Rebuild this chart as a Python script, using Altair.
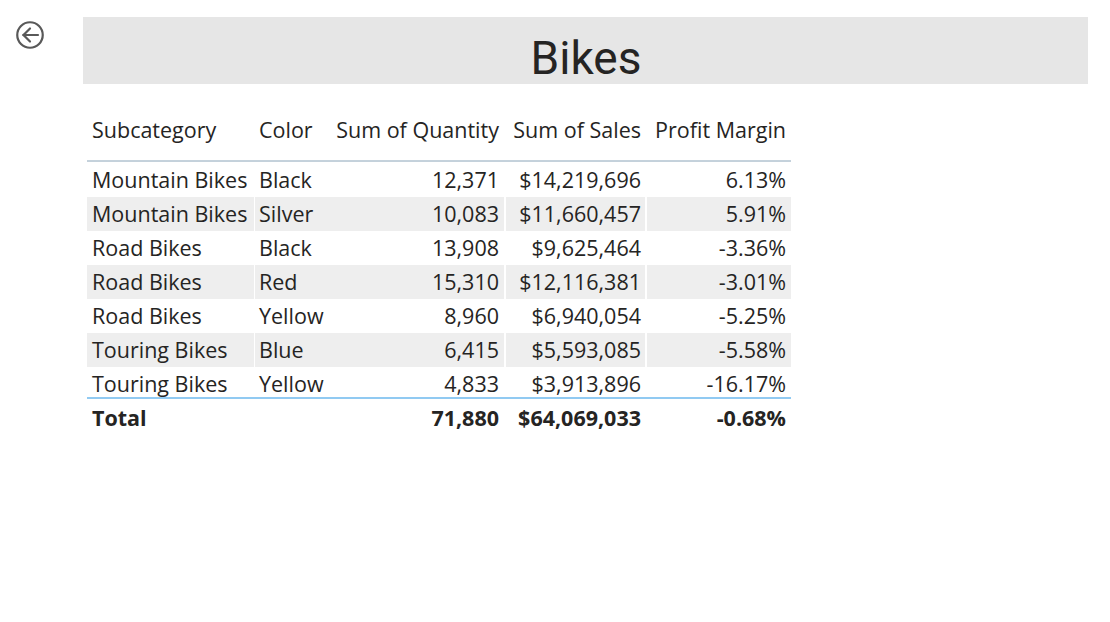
import altair as alt
import pandas as pd

# DATA ------------------------------------------------
subcategories = ["Mountain Bikes", "Mountain Bikes", "Road Bikes", "Road Bikes",
                 "Road Bikes", "Touring Bikes", "Touring Bikes"]
colors = ["Black", "Silver", "Black", "Red", "Yellow", "Blue", "Yellow"]
quantity = [12371, 10083, 13908, 15310, 8960, 6415, 4833]
sales = [14219696, 11660457, 9625464, 12116381, 6940054, 5593085, 3913896]
margin = [0.0613, 0.0591, -0.0336, -0.0301, -0.0525, -0.0558, -0.1617]

total_quantity = 71880
total_sales = 64069033
total_margin = -0.0068

headers = ["Subcategory", "Color", "Sum of Quantity", "Sum of Sales", "Profit Margin"]
title_text = "Bikes"

# TABLE -----------------------------------------------
rows = [f"r{i}" for i in range(len(subcategories))] + ["total"]

df = pd.DataFrame({
    'row': rows[:-1],
    'sub': subcategories,
    'color': colors,
    'qty': [f"{q:,}" for q in quantity],
    'sales': [f"${s:,}" for s in sales],
    'margin': [f"{m * 100:.2f}%" for m in margin],
    'band': [i % 2 == 1 for i in range(len(subcategories))],
})
df_total = pd.DataFrame({
    'row': ['total'], 'sub': ['Total'], 'color': [''],
    'qty': [f"{total_quantity:,}"], 'sales': [f"${total_sales:,}"],
    'margin': [f"{total_margin * 100:.2f}%"],
})

FONT = 'Open Sans'
TEXT_COLOR = '#252423'
FS = 21.5

y_row = alt.Y('row:N', scale=alt.Scale(domain=rows, range=[155, 427],
                                        paddingInner=0, paddingOuter=0), axis=None)

# banded cells (left, right) in chart pixels, white gaps between them
cells = [(79, 246), (247, 496), (498, 637), (639, 783)]

bands = []
for x0, x1 in cells:
    bands.append(alt.Chart(df[df['band']]).mark_rect(color='#eeeeee').encode(
        y=y_row, x=alt.value(x0), x2=alt.value(x1)))

def col_text(data, field, x, align, bold=False):
    return alt.Chart(data).mark_text(
        align=align, baseline='middle', font=FONT, fontSize=FS, dy=1.5,
        fontWeight='bold' if bold else 'normal', color=TEXT_COLOR
    ).encode(y=y_row, x=alt.value(x), text=f'{field}:N')

body = [
    col_text(df, 'sub', 84, 'left'),
    col_text(df, 'color', 251, 'left'),
    col_text(df, 'qty', 491, 'right'),
    col_text(df, 'sales', 633, 'right'),
    col_text(df, 'margin', 778, 'right'),
    col_text(df_total, 'sub', 84, 'left', True),
    col_text(df_total, 'qty', 491, 'right', True),
    col_text(df_total, 'sales', 633, 'right', True),
    col_text(df_total, 'margin', 778, 'right', True),
]

df_head = pd.DataFrame({'label': headers,
                        'hx': [84, 251, 491, 633, 778],
                        'al': ['left', 'left', 'right', 'right', 'right']})
head_left = alt.Chart(df_head[df_head['al'] == 'left']).mark_text(
    align='left', baseline='middle', font=FONT, fontSize=FS, color=TEXT_COLOR
).encode(x=alt.X('hx:Q', scale=None), y=alt.value(123.5), text='label:N')
head_right = alt.Chart(df_head[df_head['al'] == 'right']).mark_text(
    align='right', baseline='middle', font=FONT, fontSize=FS, color=TEXT_COLOR
).encode(x=alt.X('hx:Q', scale=None), y=alt.value(123.5), text='label:N')

header_line = alt.Chart(df_head.head(1)).mark_rule(color='#8aa4b8', strokeWidth=1).encode(
    x=alt.value(79), x2=alt.value(783), y=alt.value(153))
total_line = alt.Chart(df_head.head(1)).mark_rule(color='#6cb8ee', strokeWidth=1.5).encode(
    x=alt.value(79), x2=alt.value(783), y=alt.value(390))

# TITLE BAR -------------------------------------------
title_df = pd.DataFrame({'t': [title_text]})
title_box = alt.Chart(title_df).mark_rect(color='#e6e6e6').encode(
    x=alt.value(75), x2=alt.value(1080), y=alt.value(9), y2=alt.value(76))
title = alt.Chart(title_df).mark_text(
    font='Roboto', fontSize=46, color=TEXT_COLOR, align='center', baseline='middle'
).encode(x=alt.value(578), y=alt.value(52), text='t:N')

# BACK BUTTON -----------------------------------------
back_circle = alt.Chart(title_df).mark_point(
    shape='circle', size=650, filled=False, color='#595959', strokeWidth=2.2, opacity=1
).encode(x=alt.value(22), y=alt.value(27))
arrow = pd.DataFrame({'x1': [15.5, 15.5, 15.5], 'y1': [27, 27, 27],
                      'x2': [30, 22, 22], 'y2': [27, 20.5, 33.5]})
back_arrow = alt.Chart(arrow).mark_rule(color='#595959', strokeWidth=2.2, strokeCap='round').encode(
    x=alt.X('x1:Q', scale=None), x2='x2:Q',
    y=alt.Y('y1:Q', scale=None), y2='y2:Q')

chart = alt.layer(
    title_box, title, back_circle, back_arrow,
    *bands, header_line, total_line, head_left, head_right, *body
).properties(
    width=1094, height=600, padding=0, autosize='none'
).configure_view(stroke=None)

chart.save("out.html", embed_options={"renderer": "svg", "actions": False})
